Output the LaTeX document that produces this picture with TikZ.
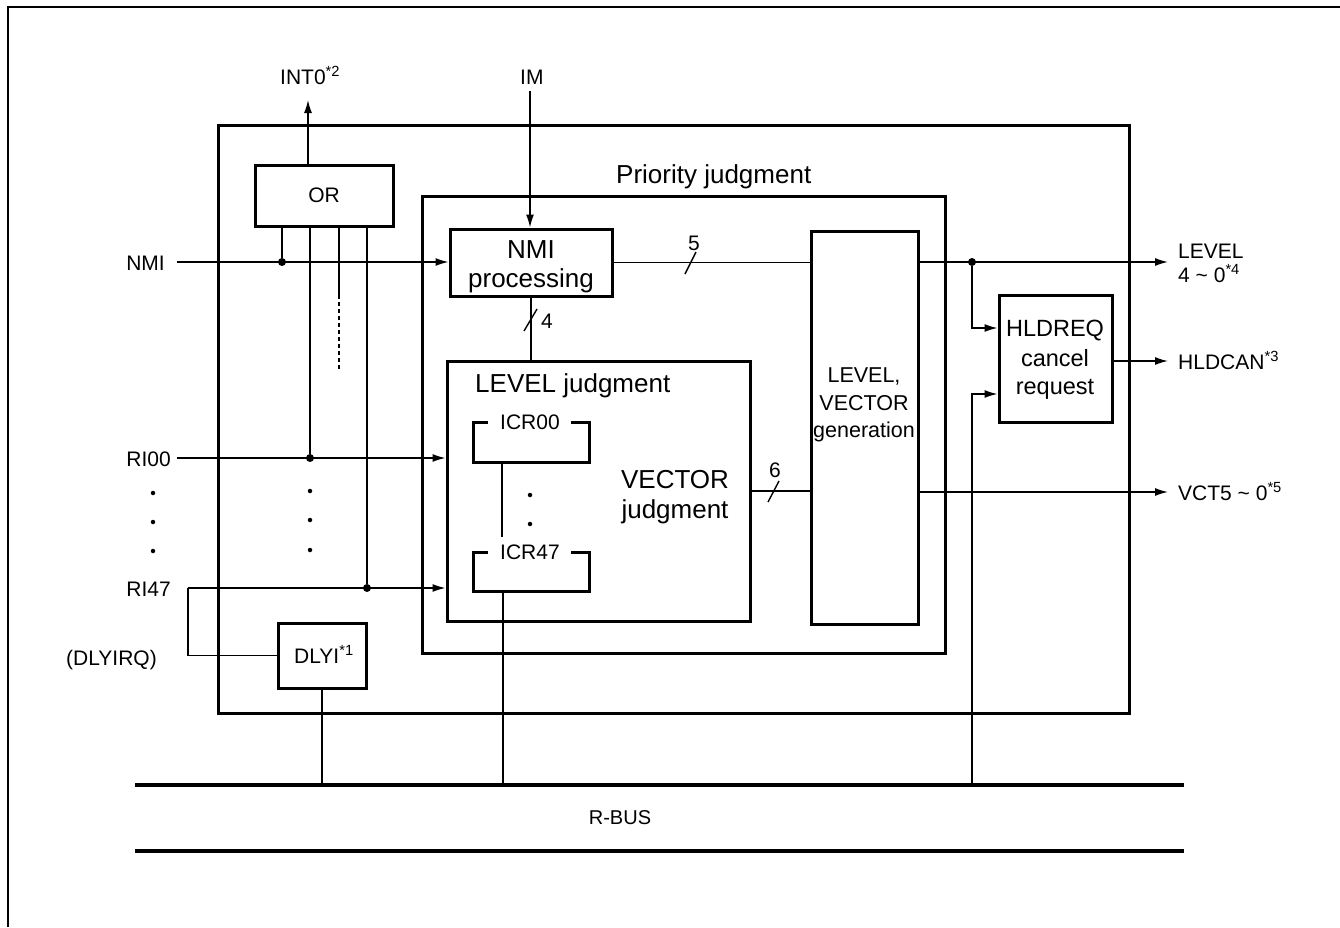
\documentclass[tikz,border=0pt]{standalone}
\usepackage{fontspec}
\setmainfont{Liberation Sans}
\usetikzlibrary{arrows.meta,calc}
\begin{document}
\begin{tikzpicture}[x=1pt,y=-1pt,
  tbox/.style={draw, line width=3pt, inner sep=0pt},
  conn/.style={line width=1.4pt},
  arr/.style={conn, -{Latex[length=13pt,width=8pt]}},
  dotc/.style={circle, fill, inner sep=0pt, minimum size=8pt},
  sdot/.style={circle, fill, inner sep=0pt, minimum size=4.5pt},
  lab/.style={font=\fontsize{21}{25}\selectfont, inner sep=0pt},
  big/.style={font=\fontsize{26}{30}\selectfont, inner sep=0pt},
  mid/.style={font=\fontsize{23.5}{27}\selectfont, inner sep=0pt},
  gen/.style={font=\fontsize{21.5}{25}\selectfont, inner sep=0pt},
]
\useasboundingbox (0,0) rectangle (1340,927);
% page frame
\draw[line width=2.8pt] (8,927) -- (8,7) -- (1340,7);

% boxes
\node[tbox, minimum width=911pt, minimum height=588pt] (outer) at (673.5,419) {};
\node[tbox, minimum width=138pt, minimum height=61pt] (or) at (324,195.5) {};
\node[lab] (ortxt) at (324,195.5) {OR};
\node[tbox, minimum width=523pt, minimum height=457pt] (prio) at (683.5,425) {};
\node[tbox, minimum width=162pt, minimum height=67pt] (nmi) at (531,262.5) {};
\node[tbox, minimum width=107pt, minimum height=393pt] (gen) at (864.5,427.5) {};
\node[tbox, minimum width=303pt, minimum height=260pt] (lvl) at (598.5,491) {};
\node[tbox, minimum width=113pt, minimum height=127pt] (hld) at (1055.5,358.5) {};
\node[tbox, minimum width=88pt, minimum height=65pt] (dly) at (322,655.5) {};

% ICR brackets
\draw[line width=3pt] (488,422) -- (473,422) -- (473,462) -- (589,462) -- (589,422) -- (571,422);
\draw[line width=3pt] (488,552) -- (473,552) -- (473,591) -- (589,591) -- (589,552) -- (571,552);
\node[lab, anchor=base] (icr00) at (530,429) {ICR00};
\node[lab, anchor=base] (icr47) at (530,559) {ICR47};
\coordinate (icrA) at (502,462);
\coordinate (icrB) at (502,537);
\draw[conn] (icrA) -- (icrB);
\node[sdot] (id1) at (530,495) {};
\node[sdot] (id2) at (530,524) {};

% texts
\node[lab, anchor=base west] (int0) at (280,84) {INT0\textsuperscript{*2}};
\node[lab, anchor=base west] (im) at (520,84) {IM};
\node[big, anchor=base west] (priot) at (616,183) {Priority judgment};
\node[big, anchor=base] (nmit1) at (531,258) {NMI};
\node[big, anchor=base] (nmit2) at (531,287) {processing};
\node[big, anchor=base west] (lvlt) at (475,392) {LEVEL judgment};
\node[big, anchor=base] (vect1) at (675,488) {VECTOR};
\node[big, anchor=base] (vect2) at (675,518) {judgment};
\node[gen, anchor=base] (gent1) at (864,382) {LEVEL,};
\node[gen, anchor=base] (gent2) at (864,410) {VECTOR};
\node[gen, anchor=base] (gent3) at (864,437) {generation};
\node[mid, anchor=base] (hldt1) at (1055,336) {HLDREQ};
\node[mid, anchor=base] (hldt2) at (1055,366) {cancel};
\node[mid, anchor=base] (hldt3) at (1055,394) {request};
\node[lab, anchor=base west] (dlyt) at (294,663) {DLYI\textsuperscript{*1}};
\node[lab, anchor=base east] (nmil) at (165,270) {NMI};
\node[lab, anchor=base east] (ri00l) at (171,466) {RI00};
\node[lab, anchor=base east] (ri47l) at (171,596) {RI47};
\node[lab, anchor=base east] (dlyirq) at (157,665) {(DLYIRQ)};
\node[lab, anchor=base west] (levl1) at (1178,258) {LEVEL};
\node[lab, anchor=base west] (levl2) at (1178,282) {4 \textasciitilde{} 0\textsuperscript{*4}};
\node[lab, anchor=base west] (hldcan) at (1178,369) {HLDCAN\textsuperscript{*3}};
\node[lab, anchor=base west] (vct) at (1178,500) {VCT5 \textasciitilde{} 0\textsuperscript{*5}};
\node[lab] (n5) at (694,243) {5};
\node[lab] (n4) at (547,321) {4};
\node[lab] (n6) at (775,470) {6};
\node[font=\fontsize{20}{23}\selectfont, inner sep=0pt] (rbus) at (620,818) {R-BUS};

% R-BUS
\coordinate (busL) at (135,785);
\coordinate (busR) at (1184,785);
\coordinate (busL2) at (135,851);
\coordinate (busR2) at (1184,851);
\draw[line width=3.6pt] (busL) -- (busR);
\draw[line width=3.6pt] (busL2) -- (busR2);

% INT0 and IM
\coordinate (int0tip) at (308,100);
\draw[arr] (int0tip |- or.south) ++(0,-61) -- (int0tip);
\coordinate (imtop) at (530,91);
\draw[arr] (imtop) -- (imtop |- nmi.north);

% NMI input
\coordinate (nmiin) at (177,262);
\draw[arr] (nmiin) -- (nmiin -| nmi.west);
\node[dotc] (d1) at (282,262) {};
\draw[conn] (d1) -- (d1 |- or.south);

% OR inputs
\node[dotc] (d2) at (310,458) {};
\draw[conn] (d2) -- (d2 |- or.south);
\coordinate (dashA) at (339,295);
\coordinate (dashB) at (339,370);
\draw[conn] (dashA |- or.south) -- (dashA);
\draw[conn, dash pattern=on 4pt off 3pt] (dashA) -- (dashB);
\node[dotc] (d3) at (367,588) {};
\draw[conn] (d3) -- (d3 |- or.south);

% RI00
\coordinate (ri00in) at (177,458);
\draw[arr] (ri00in) -- (ri00in -| lvl.west);
% RI47
\coordinate (ri47c) at (188,588);
\draw[conn] (dly.west) -| (ri47c);
\draw[arr] (ri47c) -- (ri47c -| lvl.west);

% dots columns
\node[sdot] (ld1) at (153,493) {};
\node[sdot] (ld2) at (153,522) {};
\node[sdot] (ld3) at (153,551) {};
\node[sdot] (cd1) at (310,491) {};
\node[sdot] (cd2) at (310,520) {};
\node[sdot] (cd3) at (310,550) {};

% NMI -> gen (5)
\draw[conn] (nmi.east) -- (nmi.east -| gen.west);
\draw[conn] (685,274) -- (696,252);
% NMI -> lvl (4)
\draw[conn] (nmi.south) -- (nmi.south |- lvl.north);
\draw[conn] (524,331) -- (537,309);
% lvl -> gen (6)
\draw[conn] (lvl.east) -- (lvl.east -| gen.west);
\draw[conn] (768,502) -- (779,481);

% outputs
\coordinate (lvout) at (1168,262);
\draw[arr] (gen.east |- lvout) -- (lvout);
\node[dotc] (d4) at (972,262) {};
\draw[arr] (d4) |- ($(hld.west)+(0,-30.5)$);
\coordinate (hcout) at (1168,361);
\draw[arr] (hld.east |- hcout) -- (hcout);
\coordinate (vctout) at (1168,492);
\draw[arr] (gen.east |- vctout) -- (vctout);

% bus connections
\draw[arr] (d4 |- busL) |- ($(hld.west)+(0,35.5)$);
\draw[conn] (dly.south) -- (dly.south |- busL);
\coordinate (icrC) at (503,591);
\draw[conn] (icrC) -- (icrC |- busL);
\end{tikzpicture}
\end{document}
